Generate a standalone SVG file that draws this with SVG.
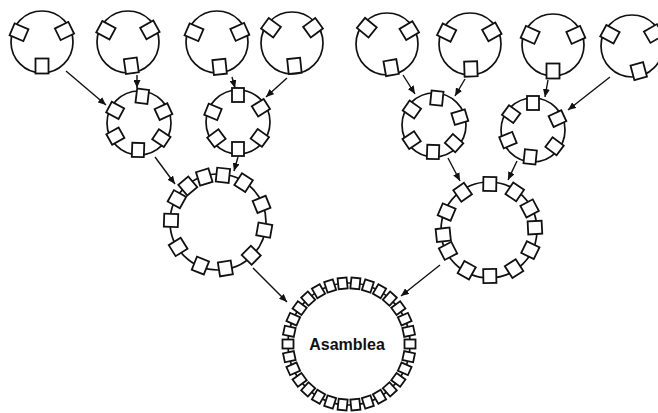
<svg xmlns="http://www.w3.org/2000/svg" xmlns:xlink="http://www.w3.org/1999/xlink" width="658" height="413" viewBox="0 0 658 413">
<style>
.ring{fill:none;stroke:#111;stroke-width:1.7}
.sq{fill:#fff;stroke:#111;stroke-width:1.8}
.conn line{stroke:#111;stroke-width:1.4;marker-end:url(#ah)}
.lbl{font-family:"Liberation Sans",Arial,sans-serif;font-size:16px;font-weight:bold;fill:#111}
</style>
<defs>
<marker id="ah" markerUnits="userSpaceOnUse" markerWidth="8" markerHeight="7" refX="8" refY="3.5" orient="auto"><path d="M0,0 L8,3.5 L0,7 z" fill="#111"/></marker>
<rect id="s1" class="sq" x="-6.5" y="-7.5" width="13" height="15"/>
<rect id="s2" class="sq" x="-6" y="-7" width="12" height="14"/>
<rect id="s3" class="sq" x="-6.5" y="-7" width="13" height="14"/>
<rect id="s4" class="sq" x="-4.5" y="-5.5" width="9" height="11"/>
</defs>
<rect width="658" height="413" fill="#fff"/>
<g id="n1" transform="translate(42,42)"><circle class="ring" r="31"/><use xlink:href="#s1" transform="rotate(-67) translate(0,-25)"/><use xlink:href="#s1" transform="rotate(64) translate(0,-25)"/><use xlink:href="#s1" transform="rotate(180) translate(0,-24)"/></g>
<g id="n2" transform="translate(128,42)"><circle class="ring" r="31"/><use xlink:href="#s1" transform="rotate(-62) translate(0,-25)"/><use xlink:href="#s1" transform="rotate(61) translate(0,-25)"/><use xlink:href="#s1" transform="rotate(172) translate(0,-24)"/></g>
<g id="n3" transform="translate(217,42)"><circle class="ring" r="31"/><use xlink:href="#s1" transform="rotate(-67) translate(0,-25)"/><use xlink:href="#s1" transform="rotate(66) translate(0,-25)"/><use xlink:href="#s1" transform="rotate(174) translate(0,-25)"/></g>
<g id="n4" transform="translate(292,43)"><circle class="ring" r="31"/><use xlink:href="#s1" transform="rotate(-54) translate(0,-26)"/><use xlink:href="#s1" transform="rotate(54) translate(0,-26)"/><use xlink:href="#s1" transform="rotate(174) translate(0,-23)"/></g>
<g id="n5" transform="translate(387,44)"><circle class="ring" r="31"/><use xlink:href="#s1" transform="rotate(-51) translate(0,-26)"/><use xlink:href="#s1" transform="rotate(59) translate(0,-26)"/><use xlink:href="#s1" transform="rotate(170) translate(0,-24)"/></g>
<g id="n6" transform="translate(470,44)"><circle class="ring" r="31"/><use xlink:href="#s1" transform="rotate(-64) translate(0,-26)"/><use xlink:href="#s1" transform="rotate(61) translate(0,-25)"/><use xlink:href="#s1" transform="rotate(178) translate(0,-25)"/></g>
<g id="n7" transform="translate(553,45)"><circle class="ring" r="31"/><use xlink:href="#s1" transform="rotate(-66) translate(0,-25)"/><use xlink:href="#s1" transform="rotate(66) translate(0,-25)"/><use xlink:href="#s1" transform="rotate(180) translate(0,-26)"/></g>
<g id="n8" transform="translate(632,46)"><circle class="ring" r="31"/><use xlink:href="#s1" transform="rotate(-62) translate(0,-25)"/><use xlink:href="#s1" transform="rotate(60) translate(0,-25)"/><use xlink:href="#s1" transform="rotate(165) translate(0,-26)"/></g>
<g id="n9" transform="translate(139,123)"><circle class="ring" r="32"/><use xlink:href="#s2" transform="rotate(7) translate(0,-27)"/><use xlink:href="#s2" transform="rotate(65) translate(0,-27)"/><use xlink:href="#s2" transform="rotate(124) translate(0,-27)"/><use xlink:href="#s2" transform="rotate(182) translate(0,-27)"/><use xlink:href="#s2" transform="rotate(241) translate(0,-27)"/><use xlink:href="#s2" transform="rotate(298) translate(0,-27)"/></g>
<g id="n10" transform="translate(238,122)"><circle class="ring" r="32"/><use xlink:href="#s2" transform="rotate(0) translate(0,-27)"/><use xlink:href="#s2" transform="rotate(58) translate(0,-27)"/><use xlink:href="#s2" transform="rotate(126) translate(0,-27)"/><use xlink:href="#s2" transform="rotate(180) translate(0,-27)"/><use xlink:href="#s2" transform="rotate(233) translate(0,-27)"/><use xlink:href="#s2" transform="rotate(292) translate(0,-27)"/></g>
<g id="n11" transform="translate(434,125)"><circle class="ring" r="32"/><use xlink:href="#s2" transform="rotate(6) translate(0,-27)"/><use xlink:href="#s2" transform="rotate(73) translate(0,-27)"/><use xlink:href="#s2" transform="rotate(132) translate(0,-27)"/><use xlink:href="#s2" transform="rotate(182) translate(0,-27)"/><use xlink:href="#s2" transform="rotate(236) translate(0,-27)"/><use xlink:href="#s2" transform="rotate(305) translate(0,-27)"/></g>
<g id="n12" transform="translate(533,130)"><circle class="ring" r="32"/><use xlink:href="#s2" transform="rotate(0) translate(0,-27)"/><use xlink:href="#s2" transform="rotate(65) translate(0,-27)"/><use xlink:href="#s2" transform="rotate(127) translate(0,-27)"/><use xlink:href="#s2" transform="rotate(186) translate(0,-27)"/><use xlink:href="#s2" transform="rotate(248) translate(0,-27)"/><use xlink:href="#s2" transform="rotate(306) translate(0,-27)"/></g>
<g id="n13" transform="translate(218,222)"><circle class="ring" r="48"/><use xlink:href="#s3" transform="rotate(299) translate(0,-47)"/><use xlink:href="#s3" transform="rotate(320) translate(0,-47)"/><use xlink:href="#s3" transform="rotate(343) translate(0,-47)"/><use xlink:href="#s3" transform="rotate(6) translate(0,-47)"/><use xlink:href="#s3" transform="rotate(33) translate(0,-47)"/><use xlink:href="#s3" transform="rotate(68) translate(0,-47)"/><use xlink:href="#s3" transform="rotate(100) translate(0,-47)"/><use xlink:href="#s3" transform="rotate(135) translate(0,-47)"/><use xlink:href="#s3" transform="rotate(171) translate(0,-47)"/><use xlink:href="#s3" transform="rotate(202) translate(0,-47)"/><use xlink:href="#s3" transform="rotate(238) translate(0,-47)"/><use xlink:href="#s3" transform="rotate(272) translate(0,-47)"/></g>
<g id="n14" transform="translate(489,230)"><circle class="ring" r="48"/><use xlink:href="#s3" transform="rotate(1) translate(0,-46)"/><use xlink:href="#s3" transform="rotate(34) translate(0,-46)"/><use xlink:href="#s3" transform="rotate(62) translate(0,-46)"/><use xlink:href="#s3" transform="rotate(87) translate(0,-46)"/><use xlink:href="#s3" transform="rotate(116) translate(0,-46)"/><use xlink:href="#s3" transform="rotate(147) translate(0,-46)"/><use xlink:href="#s3" transform="rotate(179) translate(0,-46)"/><use xlink:href="#s3" transform="rotate(209) translate(0,-46)"/><use xlink:href="#s3" transform="rotate(243) translate(0,-46)"/><use xlink:href="#s3" transform="rotate(264) translate(0,-46)"/><use xlink:href="#s3" transform="rotate(293) translate(0,-46)"/><use xlink:href="#s3" transform="rotate(325) translate(0,-46)"/></g>
<g id="n15" transform="translate(349,344)"><circle class="ring" r="61"/>
<use xlink:href="#s4" transform="rotate(6) translate(0,-61)"/><use xlink:href="#s4" transform="rotate(18) translate(0,-61)"/><use xlink:href="#s4" transform="rotate(30) translate(0,-61)"/><use xlink:href="#s4" transform="rotate(42) translate(0,-61)"/><use xlink:href="#s4" transform="rotate(54) translate(0,-61)"/><use xlink:href="#s4" transform="rotate(66) translate(0,-61)"/><use xlink:href="#s4" transform="rotate(78) translate(0,-61)"/><use xlink:href="#s4" transform="rotate(90) translate(0,-61)"/><use xlink:href="#s4" transform="rotate(102) translate(0,-61)"/><use xlink:href="#s4" transform="rotate(114) translate(0,-61)"/><use xlink:href="#s4" transform="rotate(126) translate(0,-61)"/><use xlink:href="#s4" transform="rotate(138) translate(0,-61)"/><use xlink:href="#s4" transform="rotate(150) translate(0,-61)"/><use xlink:href="#s4" transform="rotate(162) translate(0,-61)"/><use xlink:href="#s4" transform="rotate(174) translate(0,-61)"/><use xlink:href="#s4" transform="rotate(186) translate(0,-61)"/><use xlink:href="#s4" transform="rotate(198) translate(0,-61)"/><use xlink:href="#s4" transform="rotate(210) translate(0,-61)"/><use xlink:href="#s4" transform="rotate(222) translate(0,-61)"/><use xlink:href="#s4" transform="rotate(234) translate(0,-61)"/><use xlink:href="#s4" transform="rotate(246) translate(0,-61)"/><use xlink:href="#s4" transform="rotate(258) translate(0,-61)"/><use xlink:href="#s4" transform="rotate(270) translate(0,-61)"/><use xlink:href="#s4" transform="rotate(282) translate(0,-61)"/><use xlink:href="#s4" transform="rotate(294) translate(0,-61)"/><use xlink:href="#s4" transform="rotate(306) translate(0,-61)"/><use xlink:href="#s4" transform="rotate(318) translate(0,-61)"/><use xlink:href="#s4" transform="rotate(330) translate(0,-61)"/><use xlink:href="#s4" transform="rotate(342) translate(0,-61)"/><use xlink:href="#s4" transform="rotate(354) translate(0,-61)"/>
<text class="lbl" x="-2" y="6" text-anchor="middle">Asamblea</text></g>
<g id="connectors" class="conn">
<line x1="66" y1="71" x2="106" y2="105"/>
<line x1="137" y1="75" x2="137" y2="88"/>
<line x1="232" y1="77" x2="235" y2="88"/>
<line x1="287" y1="78" x2="266" y2="97"/>
<line x1="403" y1="75" x2="415" y2="94"/>
<line x1="465" y1="79" x2="455" y2="96"/>
<line x1="548" y1="80" x2="545" y2="97"/>
<line x1="610" y1="77" x2="568" y2="110"/>
<line x1="155" y1="157" x2="175" y2="184"/>
<line x1="238" y1="157" x2="234" y2="171"/>
<line x1="448" y1="158" x2="460" y2="181"/>
<line x1="517" y1="161" x2="508" y2="180"/>
<line x1="253" y1="268" x2="287" y2="302"/>
<line x1="440" y1="265" x2="401" y2="296"/>
</g>
</svg>
